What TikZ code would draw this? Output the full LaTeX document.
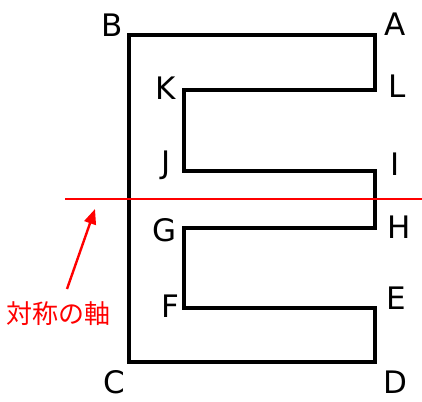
\documentclass[tikz,border=0pt]{standalone}
\usepackage{fontspec}
\newfontfamily\labfont{DejaVu Sans}
\newfontfamily\cjkfont{Noto Sans CJK JP}
\usetikzlibrary{arrows.meta}
\begin{document}
\begin{tikzpicture}[x=1pt,y=-1pt,
  shapeline/.style={line width=4.5pt, line join=miter, black},
  letter/.style={inner sep=0pt, anchor=center, font=\labfont\fontsize{31}{36}\selectfont},
  axisline/.style={line width=1.8pt, red},
  axisarrow/.style={line width=2.4pt, red, -{Triangle[length=15pt,width=12pt]}},
  axislabel/.style={inner sep=0pt, anchor=center, text=red, font=\cjkfont\fontsize{26}{30}\selectfont}]
\useasboundingbox (0,0) rectangle (422,401);
% corners
\coordinate (cB) at (129,35);
\coordinate (cA) at (375,35);
\coordinate (cL) at (375,90);
\coordinate (cK) at (184,90);
\coordinate (cJ) at (184,171);
\coordinate (cI) at (375,171);
\coordinate (cH) at (375,228);
\coordinate (cG) at (184,228);
\coordinate (cF) at (184,308);
\coordinate (cE) at (375,308);
\coordinate (cD) at (375,362);
\coordinate (cC) at (129,362);
\draw[shapeline] (cB) -- (cA) -- (cL) -- (cK) -- (cJ) -- (cI) -- (cH) -- (cG) -- (cF) -- (cE) -- (cD) -- (cC) -- cycle;
% labels
\node[letter] (lB) at (112,25) {B};
\node[letter] (lA) at (395,24) {A};
\node[letter] (lK) at (166,88) {K};
\node[letter] (lL) at (397,86) {L};
\node[letter] (lJ) at (166,165) {J};
\node[letter] (lI) at (395,164) {I};
\node[letter] (lG) at (165,230) {G};
\node[letter] (lH) at (399,227) {H};
\node[letter] (lF) at (170,306) {F};
\node[letter] (lE) at (396,298) {E};
\node[letter] (lC) at (114,382) {C};
\node[letter] (lD) at (395,382) {D};
% axis of symmetry
\coordinate (axL) at (65,199);
\coordinate (axR) at (422,199);
\draw[axisline] (axL) -- (axR);
\node[axislabel] (axtext) at (58,314) {対称の軸};
\coordinate (arrTail) at (67,289);
\coordinate (arrTip) at (95,209);
\draw[axisarrow] (arrTail) -- (arrTip);
\end{tikzpicture}
\end{document}
